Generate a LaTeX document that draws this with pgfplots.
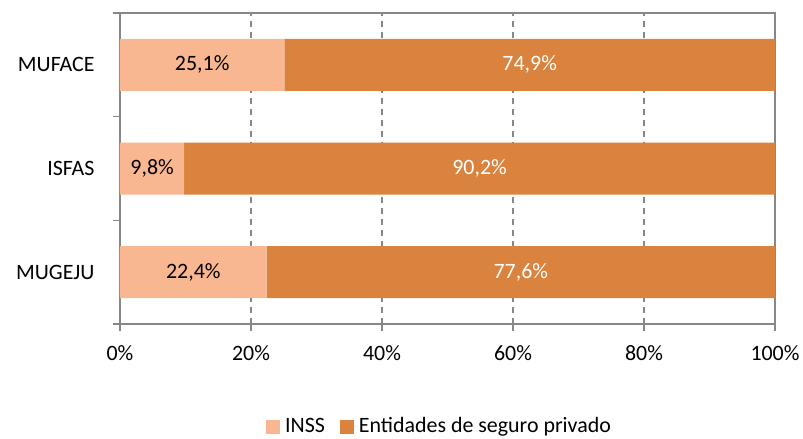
\documentclass[border=0pt]{standalone}
\usepackage{pgfplots}
\pgfplotsset{compat=1.18}
\usepackage{fontspec}
\setmainfont{Carlito}
\definecolor{inss}{HTML}{F8B691}
\definecolor{priv}{HTML}{D9833E}
\definecolor{axisgray}{HTML}{878787}
\begin{document}
\fontsize{22}{26}\selectfont
\begin{tikzpicture}
\useasboundingbox (-120bp,-115bp) rectangle (683bp,324bp);
\begin{axis}[
  scale only axis, width=655bp, height=311bp,
  xbar stacked, bar width=52bp,
  xmin=0, xmax=100, ymin=-0.5, ymax=2.5,
  xtick={0,20,40,60,80,100},
  xticklabels={0\%,20\%,40\%,60\%,80\%,100\%},
  ytick={0,1,2},
  yticklabels={MUGEJU,ISFAS,MUFACE},
  minor ytick={-0.5,0.5,1.5,2.5},
  major y tick style={draw=none},
  tick align=outside, tick pos=left,
  major tick length=7bp, minor tick length=7bp,
  xmajorgrids,
  major x grid style={axisgray, line width=1.2bp, dash pattern=on 6bp off 5bp},
  axis line style={axisgray, line width=1.5bp},
  every tick/.style={axisgray, line width=1.5bp},
  yticklabel style={font=\fontsize{22}{26}\selectfont, xshift=-11bp},
  xticklabel style={font=\fontsize{22}{26}\selectfont, yshift=-7bp},
  legend style={at={(0.487,-0.33)}, anchor=center, draw=none,
    inner sep=0pt, font=\fontsize{22}{26}\selectfont, legend columns=2,
    /tikz/every even column/.append style={column sep=14bp},
    nodes={inner sep=1bp}},
  legend image code/.code={\fill[#1] (0bp,-7bp) rectangle (14bp,7bp);
    \path (0bp,0bp) -- (18bp,0bp);},
]
\addplot[fill=inss, draw=none] coordinates {(22.4,0) (9.8,1) (25.1,2)};
\addlegendentry{INSS}
\addplot[fill=priv, draw=none] coordinates {(77.6,0) (90.2,1) (74.9,2)};
\addlegendentry{Entidades de seguro privado}
\coordinate (a1) at (axis cs:12.55,2);
\coordinate (a2) at (axis cs:4.9,1);
\coordinate (a3) at (axis cs:11.2,0);
\coordinate (b1) at (axis cs:62.55,2);
\coordinate (b2) at (axis cs:54.9,1);
\coordinate (b3) at (axis cs:61.2,0);
\end{axis}
\node[black] at (a1) {25,1\%};
\node[black] at (a2) {9,8\%};
\node[black] at (a3) {22,4\%};
\node[white] at (b1) {74,9\%};
\node[white] at (b2) {90,2\%};
\node[white] at (b3) {77,6\%};
\end{tikzpicture}
\end{document}
